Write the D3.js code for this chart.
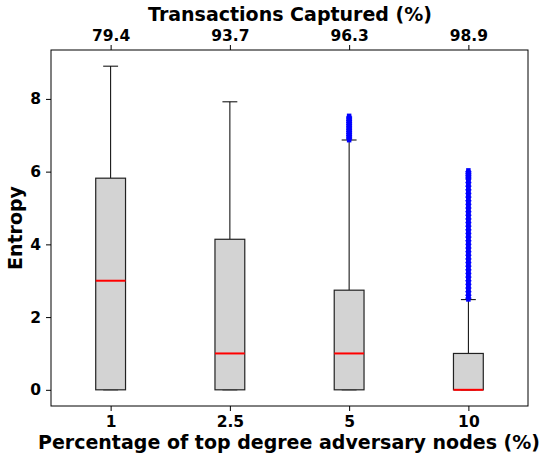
<!DOCTYPE html>
<html>
<head>
<meta charset="utf-8">
<script src="https://cdn.jsdelivr.net/npm/d3@7"></script>
<style>
  body { margin: 0; background: #fff; }
  text { font-family: "DejaVu Sans", sans-serif; font-weight: bold; }
</style>
</head>
<body>
<svg id="chart"></svg>
<script>
// box statistics
var categories = ["1", "2.5", "5", "10"]
var topLabels = ["79.4", "93.7", "96.3", "98.9"]
var q1 = [0, 0, 0, 0]
var medians = [3.0, 1.0, 1.0, 0.0]
var q3 = [5.82, 4.14, 2.74, 1.0]
var whiskLow = [0, 0, 0, 0]
var whiskHigh = [8.9, 7.92, 6.87, 2.48]
// outliers (dense columns of "+" markers)
var outliers5 = [6.9, 6.95, 7.0, 7.05, 7.1, 7.15, 7.2, 7.25, 7.3, 7.35, 7.4, 7.45, 7.5]
var outliers10 = [2.52, 2.6, 2.7, 2.8, 2.9, 3.0, 3.1, 3.2, 3.3, 3.4, 3.5, 3.6, 3.7, 3.8,
  3.9, 4.0, 4.1, 4.2, 4.3, 4.4, 4.5, 4.6, 4.7, 4.8, 4.9, 5.0, 5.1, 5.2, 5.3, 5.4,
  5.5, 5.6, 5.7, 5.8, 5.85, 5.9, 5.95, 6.0]
var yTicks = [0, 2, 4, 6, 8]

var W = 543, H = 459
var margin = {left: 51, right: 15, top: 50, bottom: 53}

var svg = d3.select("#chart").attr("width", W).attr("height", H)

var x = d3.scaleLinear()
  .domain([0.5, 4.5])
  .range([margin.left, W - margin.right])

var y = d3.scaleLinear()
  .domain([-0.445, 9.345])
  .range([H - margin.bottom, margin.top])

var boxW = x(1.125) - x(0.875)
var capW = boxW / 2

var boxes = categories.map(function(c, i) {
  return {pos: i + 1, q1: q1[i], med: medians[i], q3: q3[i],
    lo: whiskLow[i], hi: whiskHigh[i],
    out: i == 2 ? outliers5 : (i == 3 ? outliers10 : [])}
})

var g = svg.append("g")

// whiskers
g.selectAll(".whisk").data(boxes).enter().append("line")
  .attr("x1", d => x(d.pos)).attr("x2", d => x(d.pos))
  .attr("y1", d => y(d.q3)).attr("y2", d => y(d.hi))
  .attr("stroke", "#000").attr("stroke-width", 1)
g.selectAll(".cap").data(boxes).enter().append("line")
  .attr("x1", d => x(d.pos) - capW / 2).attr("x2", d => x(d.pos) + capW / 2)
  .attr("y1", d => y(d.hi)).attr("y2", d => y(d.hi))
  .attr("stroke", "#000").attr("stroke-width", 1)
g.selectAll(".capLo").data(boxes).enter().append("line")
  .attr("x1", d => x(d.pos) - capW / 2).attr("x2", d => x(d.pos) + capW / 2)
  .attr("y1", d => y(d.lo)).attr("y2", d => y(d.lo))
  .attr("stroke", "#000").attr("stroke-width", 1)

// boxes
g.selectAll(".box").data(boxes).enter().append("rect")
  .attr("x", d => x(d.pos) - boxW / 2)
  .attr("width", boxW)
  .attr("y", d => y(d.q3))
  .attr("height", d => y(d.q1) - y(d.q3))
  .attr("fill", "#d3d3d3")
  .attr("stroke", "#222").attr("stroke-width", 1.2)

// medians
g.selectAll(".med").data(boxes).enter().append("line")
  .attr("x1", d => x(d.pos) - boxW / 2).attr("x2", d => x(d.pos) + boxW / 2)
  .attr("y1", d => y(d.med)).attr("y2", d => y(d.med))
  .attr("stroke", "#ff0000").attr("stroke-width", 2)

// outliers
boxes.forEach(function(b) {
  var pts = g.selectAll(null).data(b.out).enter().append("g")
    .attr("transform", d => "translate(" + x(b.pos) + "," + y(d) + ")")
  pts.append("line").attr("x1", -3).attr("x2", 3).attr("y1", 0).attr("y2", 0)
    .attr("stroke", "#0000ff").attr("stroke-width", 1.5)
  pts.append("line").attr("x1", 0).attr("x2", 0).attr("y1", -3.5).attr("y2", 3.5)
    .attr("stroke", "#0000ff").attr("stroke-width", 4.5)
})

// frame
svg.append("rect")
  .attr("x", margin.left).attr("y", margin.top)
  .attr("width", W - margin.left - margin.right)
  .attr("height", H - margin.top - margin.bottom)
  .attr("fill", "none").attr("stroke", "#000").attr("stroke-width", 1)

// axes
var xAxis = svg.append("g")
  .attr("transform", "translate(0," + (H - margin.bottom) + ")")
  .call(d3.axisBottom(x).tickValues([1, 2, 3, 4])
    .tickFormat((d, i) => categories[i]).tickSize(5).tickPadding(5))
var xTop = svg.append("g")
  .attr("transform", "translate(0," + margin.top + ")")
  .call(d3.axisTop(x).tickValues([1, 2, 3, 4])
    .tickFormat((d, i) => topLabels[i]).tickSize(5).tickPadding(4))
var yAxis = svg.append("g")
  .attr("transform", "translate(" + margin.left + ",0)")
  .call(d3.axisLeft(y).tickValues(yTicks).tickSize(5).tickPadding(5))

;[xAxis, xTop, yAxis].forEach(function(a) {
  a.select(".domain").remove()
  a.attr("font-size", null).attr("font-family", null)
  a.selectAll("text").attr("fill", "#000")
    .style("font-size", "15.5px")
    .style("font-family", "DejaVu Sans").style("font-weight", "bold")
  a.selectAll("line").attr("stroke", "#000")
})

// titles
svg.append("text").attr("x", 290).attr("y", 21)
  .attr("text-anchor", "middle").style("font-size", "19px")
  .text("Transactions Captured (%)")
svg.append("text").attr("x", 289).attr("y", 449)
  .attr("text-anchor", "middle").style("font-size", "19px")
  .text("Percentage of top degree adversary nodes (%)")
svg.append("text")
  .attr("transform", "translate(22," + ((margin.top + H - margin.bottom) / 2) + ") rotate(-90)")
  .attr("text-anchor", "middle").style("font-size", "19px")
  .text("Entropy")
</script>
</body>
</html>
